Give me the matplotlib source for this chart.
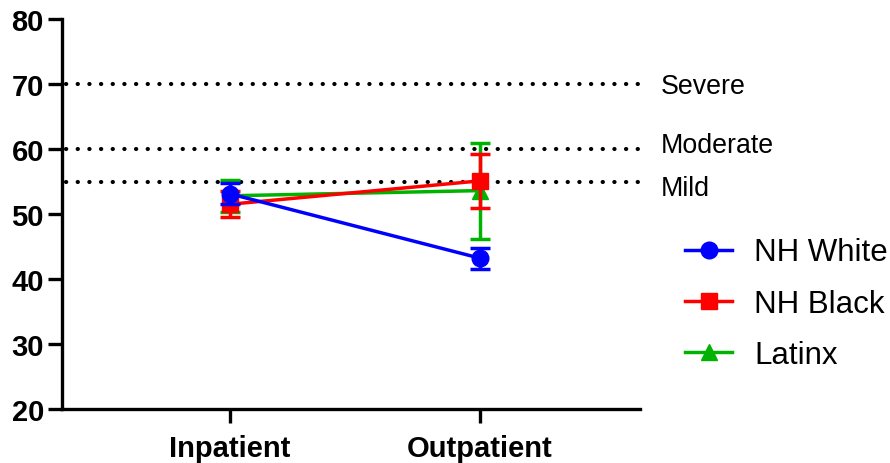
import matplotlib.pyplot as plt
from matplotlib.lines import Line2D

plt.rcParams['font.family'] = ['Liberation Sans', 'DejaVu Sans']

groups = ["Inpatient", "Outpatient"]
series = ["NH White", "NH Black", "Latinx"]
white_mean = [53.1, 43.2]
white_err = [1.6, 1.6]
black_mean = [51.5, 55.1]
black_err = [2.0, 4.2]
latinx_mean = [52.8, 53.6]
latinx_err = [2.5, 7.4]
thresholds = [70, 60, 55]
threshold_labels = ["Severe", "Moderate", "Mild"]

colors = ["#0000FF", "#FF0000", "#00B300"]
markers = ["o", "s", "^"]
means = [white_mean, black_mean, latinx_mean]
errs = [white_err, black_err, latinx_err]
zorders = [6, 5, 4]

fig = plt.figure(figsize=(8.9, 4.64), dpi=100)
ax = fig.add_axes([62/890, 54/464, (640-62)/890, 390/464])

x = list(range(len(groups)))
handles = []
for name, m, e, c, mk, z in zip(series, means, errs, colors, markers, zorders):
    ax.errorbar(x, m, yerr=e, color=c, marker=mk, markersize=12, lw=2.5,
                elinewidth=2.5, capsize=7, capthick=2.5, zorder=z)
    handles.append(Line2D([], [], color=c, marker=mk, markersize=12, lw=2.5, label=name))

for t, lab in zip(thresholds, threshold_labels):
    ax.axhline(t, xmin=0.007, color="black", lw=3.0, linestyle=(0, (0.05, 2.75)),
               dash_capstyle="round", zorder=2)
# label offsets so the text sits like in the original
off = {"Severe": -0.25, "Moderate": 0.55, "Mild": -0.95}
for t, lab in zip(thresholds, threshold_labels):
    ax.text(1.036, t + off[lab], lab, fontsize=19.3, va="center", ha="left",
            transform=ax.get_yaxis_transform(), clip_on=False)

ax.set_xlim(-0.672, 1.64)
ax.set_ylim(20, 80)
ax.set_yticks([20, 30, 40, 50, 60, 70, 80])
ax.set_xticks(x)
ax.set_xticklabels(groups)
for lbl in ax.get_xticklabels() + ax.get_yticklabels():
    lbl.set_fontweight("bold")
    lbl.set_fontsize(21)
ax.tick_params(axis="both", length=10, width=2.4, pad=3)
ax.tick_params(axis="x", pad=8)
for s in ["top", "right"]:
    ax.spines[s].set_visible(False)
for s in ["left", "bottom"]:
    ax.spines[s].set_linewidth(2.4)

ax.legend(handles=handles, loc="center left", bbox_to_anchor=(1.051, 0.27),
          frameon=False, fontsize=22.5, handlelength=1.5, handletextpad=0.72,
          labelspacing=0.68, borderpad=0)

fig.savefig("out.png", dpi=100)
